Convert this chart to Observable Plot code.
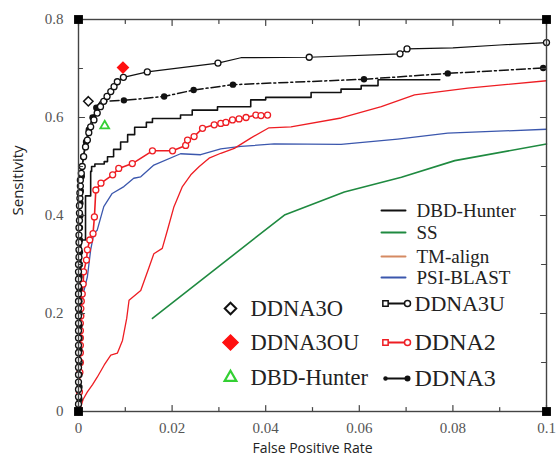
<!DOCTYPE html>
<html><head><meta charset="utf-8">
<script src="https://cdn.jsdelivr.net/npm/d3@7"></script>
<script src="https://cdn.jsdelivr.net/npm/@observablehq/plot@0.6"></script>
<style>body{margin:0;background:#fff}#chart{position:absolute;left:0;top:0}</style>
</head><body><div id="chart"></div>
<script>
// ---- axes ----
const xDomain = [0, 0.1];
const yDomain = [0, 0.8];
const xTicks = [0, 0.02, 0.04, 0.06, 0.08, 0.1];
const xMinorTicks = [0.01, 0.03, 0.05, 0.07, 0.09];
const yTicks = [0, 0.2, 0.4, 0.6, 0.8];
const yMinorTicks = [0.1, 0.3, 0.5, 0.7];
const xLabel = "False Positive Rate";
const yLabel = "Sensitivity";

// ---- series: [FPR, sensitivity, marker?] ----
const ddna3u = [
  [0,0,1],[0,0.015,1],[0,0.03,1],[0,0.045,1],[0,0.06,1],[0,0.075,1],[0,0.09,1],[0,0.105,1],
  [0,0.12,1],[0,0.135,1],[0,0.15,1],[0,0.165,1],[0,0.18,1],[0,0.195,1],[0,0.21,1],[0,0.225,1],
  [0,0.24,1],[0,0.255,1],[0,0.27,1],[0,0.285,1],[0,0.30,1],[0.0001,0.315,1],[0.0001,0.33,1],
  [0.0001,0.345,1],[0.0001,0.36,1],[0.0001,0.375,1],[0.0002,0.39,1],[0.0002,0.405,1],
  [0.0002,0.42,1],[0.0003,0.435,1],[0.0003,0.446,1],[0.0004,0.46,1],[0.0004,0.472,1],
  [0.0006,0.486,1],[0.0008,0.50,1],[0.0011,0.52,1],[0.0015,0.54,1],[0.0019,0.554,1],
  [0.0022,0.569,1],[0.0026,0.581,1],[0.0033,0.595,1],[0.0040,0.609,1],[0.0047,0.622,1],
  [0.0054,0.633,1],[0.0061,0.643,1],[0.0069,0.653,1],[0.0076,0.663,1],[0.0083,0.673,1],
  [0.0096,0.682,1],[0.0147,0.693,1],[0.0298,0.711,1],[0.0347,0.722,0],[0.0493,0.723,1],
  [0.0687,0.730,1],[0.0702,0.740,1],[0.0800,0.742,0],[0.0900,0.748,0],[0.1000,0.753,1]
];
const ddna3 = [
  [0,0,1],[0.0002,0.025,1],[0.0002,0.05,1],[0.0002,0.075,1],[0.0002,0.10,1],[0.0002,0.125,1],
  [0.0002,0.15,1],[0.0002,0.175,1],[0.0002,0.20,1],[0.0002,0.225,1],[0.0002,0.25,1],
  [0.0002,0.275,1],[0.0003,0.30,1],[0.0003,0.325,1],[0.0003,0.35,1],[0.0003,0.375,1],
  [0.0004,0.40,1],[0.0004,0.425,1],[0.0005,0.45,1],[0.0007,0.48,1],[0.0010,0.52,1],
  [0.0016,0.55,1],[0.0022,0.575,1],[0.0030,0.60,1],[0.0038,0.62,1],[0.0047,0.633,0],
  [0.0097,0.635,1],[0.0183,0.643,1],[0.0246,0.656,1],[0.0330,0.667,1],[0.0610,0.678,1],
  [0.0789,0.690,1],[0.0993,0.701,1]
];
const ddna2 = [
  [0,0,1],[0.0002,0.04,1],[0.0003,0.08,1],[0.0004,0.10,1],[0.0004,0.12,1],[0.0004,0.135,1],
  [0.0004,0.15,1],[0.0004,0.165,1],[0.0004,0.18,1],[0.0005,0.195,1],[0.0005,0.21,1],
  [0.0006,0.225,1],[0.0008,0.24,1],[0.0010,0.26,1],[0.0011,0.285,1],[0.0017,0.309,1],
  [0.0019,0.33,1],[0.0024,0.35,1],[0.0031,0.363,1],[0.0034,0.397,1],[0.0037,0.452,1],
  [0.0048,0.466,1],[0.0073,0.483,1],[0.0086,0.496,1],[0.0115,0.506,1],[0.0158,0.532,1],
  [0.0201,0.532,1],[0.0229,0.543,1],[0.0233,0.554,1],[0.0247,0.561,1],[0.0265,0.578,1],
  [0.0290,0.585,1],[0.0304,0.588,1],[0.0315,0.590,1],[0.0329,0.595,1],[0.0343,0.597,1],
  [0.0358,0.600,1],[0.0379,0.605,1],[0.0390,0.604,1],[0.0404,0.605,1]
];
const dbdHunter = [
  [0,0],[0,0.20],[0.0005,0.35],[0.0015,0.44],[0.0026,0.49],[0.0028,0.50],[0.0035,0.505],
  [0.0055,0.51],[0.0062,0.52],[0.0075,0.535],[0.0090,0.55],[0.0105,0.565],[0.0120,0.58],
  [0.0145,0.59],[0.0158,0.598],[0.0218,0.605],[0.0243,0.615],[0.0297,0.622],[0.0368,0.636],
  [0.0400,0.641],[0.0497,0.651],[0.0561,0.658],[0.0604,0.665],[0.0640,0.677],[0.0772,0.677]
];
const ss = [
  [0.0158,0.19],[0.0440,0.401],[0.0568,0.448],[0.0690,0.478],[0.0804,0.512],[0.1000,0.546]
];
const tmAlign = [
  [0.0003,0.0],[0.0005,0.01],[0.0010,0.025],[0.0019,0.04],[0.0030,0.055],[0.0040,0.07],
  [0.0055,0.095],[0.0069,0.115],[0.0083,0.119],[0.0094,0.145],[0.0103,0.19],[0.0108,0.227],
  [0.0133,0.247],[0.0151,0.295],[0.0161,0.322],[0.0179,0.333],[0.0190,0.37],[0.0204,0.418],
  [0.0222,0.459],[0.0240,0.483],[0.0258,0.50],[0.0279,0.517],[0.0304,0.527],[0.0333,0.537],
  [0.0368,0.558],[0.0407,0.579],[0.0454,0.581],[0.0561,0.599],[0.0647,0.622],[0.0718,0.646],
  [0.0832,0.660],[0.1000,0.675]
];
const psiBlast = [
  [0,0],[0.0002,0.10],[0.0005,0.20],[0.0010,0.24],[0.0019,0.275],[0.0026,0.33],[0.0033,0.364],
  [0.0040,0.37],[0.0054,0.418],[0.0072,0.445],[0.0097,0.459],[0.0118,0.476],[0.0133,0.479],
  [0.0161,0.503],[0.0218,0.526],[0.0261,0.524],[0.0304,0.536],[0.0347,0.541],[0.0418,0.546],
  [0.0561,0.545],[0.0682,0.556],[0.0789,0.568],[0.1000,0.576]
];
const ddna3o = [[0.0021, 0.633]];
const ddna3ou = [[0.0095, 0.702]];
const dbdHunterPoint = [[0.0056, 0.583]];

// ---- legend labels ----
const lineLegend = ["DBD-Hunter", "SS", "TM-align", "PSI-BLAST"];
const markerLegend = ["DDNA3U", "DDNA2", "DDNA3"];
const pointLegend = ["DDNA3O", "DDNA3OU", "DBD-Hunter"];

// ---- styles ----
const serif = "Liberation Serif";
const sans = "Open Sans";
const RED = "#ee1d23", BLUE = "#3b57ad", GREEN = "#1f8a40", ORANGE = "#d58a62";
const tickShape = {draw(ctx, l) { ctx.moveTo(0, 0); ctx.lineTo(0, -l); }};
const X = d => d[0], Y = d => d[1];

const ticks = (vals, axis, at, rotate, len) => Plot.vector(vals, {
  x: axis === "x" ? d => d : at, y: axis === "y" ? d => d : at,
  length: len, rotate, anchor: "start", shape: tickShape, stroke: "#444", strokeWidth: 1.2
});

const marks = [
  Plot.line(ss, {x: X, y: Y, stroke: GREEN, strokeWidth: 1.6}),
  Plot.line(psiBlast, {x: X, y: Y, stroke: BLUE, strokeWidth: 1.3}),
  Plot.line(tmAlign, {x: X, y: Y, stroke: RED, strokeWidth: 1.3}),
  Plot.line(dbdHunter, {x: X, y: Y, stroke: "#111", strokeWidth: 1.6, curve: "step-after"}),
  Plot.line(ddna2, {x: X, y: Y, stroke: RED, strokeWidth: 1.6}),
  Plot.dot(ddna2.filter(d => d[2]), {x: X, y: Y, r: 3, stroke: RED, fill: "white", strokeWidth: 1.3}),
  Plot.line(ddna3, {x: X, y: Y, stroke: "#111", strokeWidth: 1.5, strokeDasharray: "9,3,2,3"}),
  Plot.dot(ddna3.filter(d => d[2]), {x: X, y: Y, r: 3.2, fill: "#111"}),
  Plot.line(ddna3u, {x: X, y: Y, stroke: "#111", strokeWidth: 1.2}),
  Plot.dot(ddna3u.filter(d => d[2]), {x: X, y: Y, r: 3, stroke: "#111", fill: "white", strokeWidth: 1.3}),
  Plot.dot(ddna3o, {x: X, y: Y, symbol: "diamond2", r: 4.2, stroke: "#111", strokeWidth: 1.5, fill: "white"}),
  Plot.dot(ddna3ou, {x: X, y: Y, symbol: "diamond2", r: 4.8, fill: "#ff1010", stroke: "#ff1010"}),
  Plot.dot(dbdHunterPoint, {x: X, y: Y, symbol: "triangle2", r: 4.2, stroke: "#33d033", strokeWidth: 1.8, fill: "none"}),
  Plot.frame({stroke: "#444", strokeWidth: 1.4}),
  ticks(xTicks, "x", yDomain[0], 0, 6), ticks(xMinorTicks, "x", yDomain[0], 0, 4),
  ticks(xTicks, "x", yDomain[1], 180, 6), ticks(xMinorTicks, "x", yDomain[1], 180, 4),
  ticks(yTicks, "y", xDomain[0], 90, 6), ticks(yMinorTicks, "y", xDomain[0], 90, 4),
  ticks(yTicks, "y", xDomain[1], -90, 6), ticks(yMinorTicks, "y", xDomain[1], -90, 5),
  Plot.dot(d3.cross(xDomain, yDomain), {x: X, y: Y, symbol: "square", r: 5, fill: "#000"}),
  Plot.axisX(xTicks, {tickSize: 0, tickPadding: 11, fontSize: 15, fill: "#555", tickFormat: d3.format("~g"), label: null}),
  Plot.axisY(yTicks, {tickSize: 0, tickPadding: 15, fontSize: 15, fill: "#555", tickFormat: d3.format("~g"), label: null}),
  Plot.text([yLabel], {frameAnchor: "left", dx: -60, rotate: -90, fontSize: 15, fill: "#222", text: d => d}),
  Plot.text([xLabel], {frameAnchor: "bottom", dy: 41, fontSize: 14, fill: "#222", text: d => d})
];

// right legend: plain lines
const lineColors = ["#111", GREEN, ORANGE, BLUE];
const lineRowDy = [191, 213, 237, 258];
lineLegend.forEach((name, i) => {
  marks.push(Plot.vector([name], {frameAnchor: "top-left", dx: 303, dy: lineRowDy[i], length: 24, rotate: 90, anchor: "start", shape: tickShape, stroke: lineColors[i], strokeWidth: 2}));
  marks.push(Plot.text([name], {frameAnchor: "top-left", dx: 338, dy: lineRowDy[i], text: d => d, textAnchor: "start", lineAnchor: "middle", fontSize: 19, fill: "#222"}));
});
// right legend: lines with markers
const markerColors = ["#111", RED, "#111"];
const markerRowDy = [284, 323, 359];
const markerSizes = [22, 24, 24];
markerLegend.forEach((name, i) => {
  const c = markerColors[i], dy = markerRowDy[i];
  marks.push(Plot.vector([name], {frameAnchor: "top-left", dx: 307, dy, length: 22, rotate: 90, anchor: "start", shape: tickShape, stroke: c, strokeWidth: 1.8}));
  if (i < 2) {
    marks.push(Plot.dot([name], {frameAnchor: "top-left", dx: 307, dy, symbol: "square", r: 3, stroke: c, fill: "white", strokeWidth: 1.5}));
    marks.push(Plot.dot([name], {frameAnchor: "top-left", dx: 329, dy, r: 3, stroke: c, fill: "white", strokeWidth: 1.5}));
  } else {
    marks.push(Plot.dot([name], {frameAnchor: "top-left", dx: 307, dy, r: 2.2, fill: c}));
    marks.push(Plot.dot([name], {frameAnchor: "top-left", dx: 329, dy, r: 3, fill: c}));
  }
  marks.push(Plot.text([name], {frameAnchor: "top-left", dx: 336, dy, text: d => d, textAnchor: "start", lineAnchor: "middle", fontSize: markerSizes[i], fill: "#222"}));
});
// left legend: single points
const pointRowDy = [289, 323, 358];
const pointStyles = [
  {symbol: "diamond2", r: 5.2, stroke: "#111", strokeWidth: 2, fill: "white"},
  {symbol: "diamond2", r: 6.8, stroke: "#ff1010", fill: "#ff1010"},
  {symbol: "triangle2", r: 5.6, stroke: "#33d033", strokeWidth: 2.2, fill: "none"}
];
pointLegend.forEach((name, i) => {
  marks.push(Plot.dot([name], {frameAnchor: "top-left", dx: 152, dy: pointRowDy[i], ...pointStyles[i]}));
  marks.push(Plot.text([name], {frameAnchor: "top-left", dx: 172, dy: pointRowDy[i], text: d => d, textAnchor: "start", lineAnchor: "middle", fontSize: 22.5, fill: "#222"}));
});

const chart = Plot.plot({
  width: 557, height: 456,
  marginLeft: 78, marginRight: 11, marginTop: 19, marginBottom: 45,
  x: {domain: xDomain},
  y: {domain: yDomain},
  style: {background: "white"},
  marks
});
// fonts: axis titles in sans, everything else in a Times-like serif
chart.querySelectorAll("text").forEach(t => {
  const s = t.textContent;
  t.style.fontFamily = (s === xLabel || s === yLabel) ? `"${sans}", sans-serif` : `"${serif}", serif`;
});
document.getElementById("chart").appendChild(chart);
</script></body></html>
